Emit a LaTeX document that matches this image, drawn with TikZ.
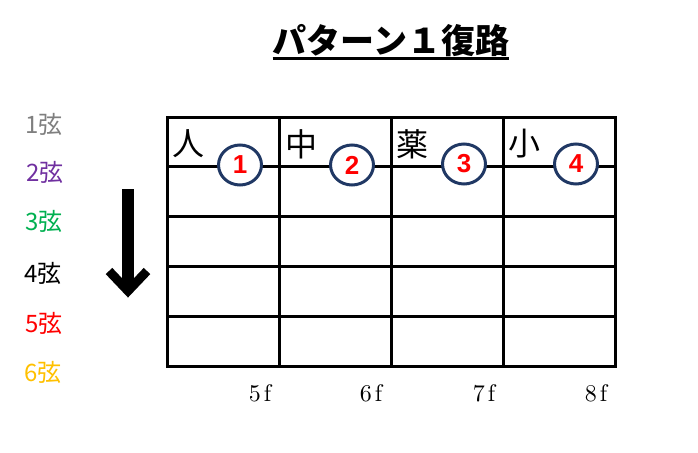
\documentclass[tikz,border=0pt]{standalone}
\usepackage{fontspec}
\newfontfamily\cjk{Noto Sans CJK JP}
\newfontfamily\arial{Liberation Sans}
\newfontfamily\lmten{lmroman10-regular.otf}
\usetikzlibrary{shapes.geometric}
\definecolor{navy}{HTML}{203864}
\definecolor{sgray}{HTML}{7F7F7F}
\definecolor{spurple}{HTML}{7030A0}
\definecolor{sgreen}{HTML}{00B050}
\definecolor{sred}{HTML}{FF0000}
\definecolor{sgold}{HTML}{FFC000}
\tikzset{
  gridline/.style={line width=3pt, black},
  kanji/.style={anchor=west, inner sep=0pt, font=\cjk\fontsize{32}{32}\selectfont},
  strlabel/.style={anchor=west, inner sep=0pt, font=\cjk\fontsize{24}{24}\selectfont},
  fretlabel/.style={anchor=center, inner sep=0pt, font=\lmten\fontsize{24}{24}\selectfont},
  numcirc/.style={ellipse, draw=navy, line width=3pt, fill=white, minimum width=43pt, minimum height=40pt, inner sep=0pt},
  numtext/.style={inner sep=0pt, text=sred, font=\arial\bfseries\fontsize{26}{26}\selectfont},
}
\begin{document}
\begin{tikzpicture}[x=1pt,y=-1pt]
\useasboundingbox (0,0) rectangle (698,452);
% title
\node[inner sep=0pt, anchor=base, font=\cjk\bfseries\fontsize{34}{34}\selectfont] (title) at (391,54) {パターン１復路};
\draw[line width=3pt] ([yshift=-5pt]title.base west) -- ([yshift=-5pt]title.base east);
% string labels
\node[strlabel, text=sgray]   (s1) at (25,124) {1弦};
\node[strlabel, text=spurple] (s2) at (26,172) {2弦};
\node[strlabel, text=sgreen]  (s3) at (25,221) {3弦};
\node[strlabel, text=black]   (s4) at (24,273) {4弦};
\node[strlabel, text=sred]    (s5) at (25,323) {5弦};
\node[strlabel, text=sgold]   (s6) at (24,372) {6弦};
% arrow
\coordinate (atop) at (128,189);
\coordinate (abot) at (128,290);
\coordinate (al) at (109,271);
\coordinate (ar) at (147,271);
\coordinate (atip) at (128,291);
\draw[line width=12pt] (atop) -- (abot);
\draw[line width=9pt, line join=miter] (al) -- (atip) -- (ar);
% grid
\draw[gridline] (167,117) rectangle (615,366);
\foreach \x in {279,391,503} \draw[gridline] (\x,117) -- (\x,366);
\foreach \y in {166,216,266,316} \draw[gridline] (167,\y) -- (615,\y);
% kanji
\node[kanji] (k1) at (172,144) {人};
\node[kanji] (k2) at (285,144) {中};
\node[kanji] (k3) at (396,144) {薬};
\node[kanji] (k4) at (508,144) {小};
% circled numbers
\node[numcirc] (c1) at (240,165) {};
\node[numcirc] (c2) at (352,165) {};
\node[numcirc] (c3) at (464,164) {};
\node[numcirc] (c4) at (576,164) {};
\node[numtext] (n1) at (c1.center) {1};
\node[numtext] (n2) at (c2.center) {2};
\node[numtext] (n3) at (c3.center) {3};
\node[numtext] (n4) at (c4.center) {4};
% fret labels
\node[fretlabel] (f5) at (260,393) {5\kern3pt f};
\node[fretlabel] (f6) at (371,393) {6\kern3pt f};
\node[fretlabel] (f7) at (484,393) {7\kern3pt f};
\node[fretlabel] (f8) at (596,393) {8\kern3pt f};
\end{tikzpicture}
\end{document}
